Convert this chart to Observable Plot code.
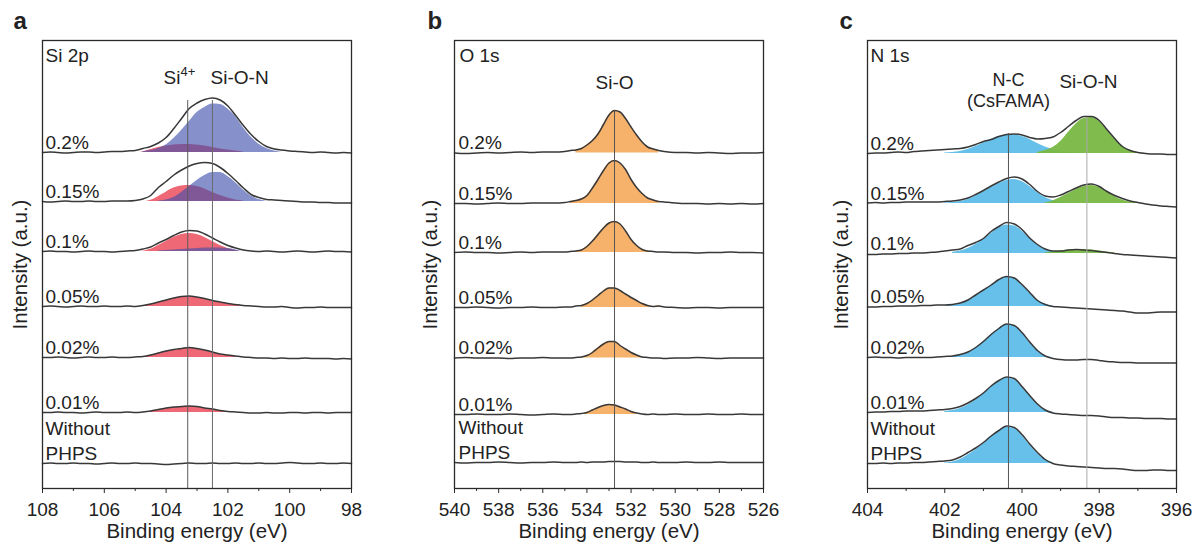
<!DOCTYPE html>
<html><head><meta charset="utf-8">
<script src="https://cdn.jsdelivr.net/npm/d3@7"></script>
<script src="https://cdn.jsdelivr.net/npm/@observablehq/plot@0.6"></script>
<style>
html,body{margin:0;padding:0;background:#fff;}
#wrap{position:relative;width:1194px;height:550px;overflow:hidden;background:#fff;}
#wrap svg{position:absolute;top:0;}
</style></head><body><div id="wrap"></div>
<script>
// ---------- shared ----------
const sampleLabels = ["0.2%", "0.15%", "0.1%", "0.05%", "0.02%", "0.01%", "Without\nPHPS"];

// ---------- panel a : Si 2p ----------
const siEnergy = [108,107.75,107.5,107.25,107,106.75,106.5,106.25,106,105.75,105.5,105.25,105,104.75,104.5,104.25,104,103.75,103.5,103.25,103,102.75,102.5,102.25,102,101.75,101.5,101.25,101,100.75,100.5,100.25,100,99.75,99.5,99.25,99,98.75,98.5,98.25,98];
const siOffset = [336, 287, 237, 182, 131, 76, 25];
const siRaw02  = [0,0.5,0,-0.5,0,0.5,0.5,0,0.5,1,1,1.5, 2,4,6,9.5,15,24,34,44,49.5,53,54.5,52.5,46.5,37,27,18,11,6,3.5,2.5,1.5,1,0.5,0,0.5,0,-0.5,0,-0.5];
const siRaw015 = [0,-0.5,0,0.5,0,0,0.5,0,0,0.5,0.5,0.5, 1,2.5,6,14,20,26.5,31.5,35.5,38,39,38,34,28,21,13.5,7,4,2,1.5,1,0.5,0,-0.5,-0.5,-1,-1,-1.5,-1.5,-1.5];
const siRaw01  = [0,0.5,0,0,-0.5,0,0.5,0,0,-0.5,0,0.5, 1,2.5,4.5,8.5,12,16,19.5,21,20.5,17.5,13.5,9.5,6,3.5,1.5,0.5, 0,0.5,0,-0.5,0,0.5,0,-0.5,0,0.5,0,0,-0.5];
const siRaw005 = [0,0.5,0,-0.5,0,0.5,0,0,0.5,0,0,0.5, 0,1,2.5,4.5,6.5,8.5,10,10.5,9.5,8,6,4.5,3,2,1,0.5, 0,-0.5,-0.5,0,-1,-1.5,-1,-1,-0.5,-1,-1,-1,-1];
const siRaw002 = [0,0,0.5,0,-0.5,0,0.5,0,0,0.5,0,0, 0.5,1,2.5,4.5,6.5,8,9,10,9,7.5,5.5,3.5,2.5,1.5,0.5,0, -0.5,-0.5,-1,-0.5,-1,-1,-0.5,-1,-1,-1,-1.5,-1,-1.5];
const siRaw001 = [0,0,0.5,0,0,-0.5,0,0.5,0,0,0,0.5, 0,0.5,1.5,3,4.5,5.5,6,6.5,6,4.5,3.5,2,1,0.5,0,-0.5, -0.5,0,-0.5,-0.5,0,0,-0.5,0,0,-0.5,0,0,0];
const siRaw0   = [0,0.5,0,0,0.5,0,0,-0.5,0,0.5,0,0,0.5,0,0,-0.5,-1,-0.5,0,0.5,0,0,0.5,0,0,0.5,0,0,0.5,0,0,0.5,1,0.5,0,0,0.5,0,0,0.5,0];
// fitted components (start energy + heights on the grid)
const siRed02   = {from: 105,    h: [0.5,1.5,3,5,6.5,7.5,8,8,7.5,6.5,5,3.5,2.5,1.5,0.5]};
const siBlue02  = {from: 104.75, h: [1,2,4,7.5,14,22,31,40,45,48.5,48,43.5,36,26,17,10,5.5,3,1.5,0.5]};
const siRed015  = {from: 104.75, h: [1,3,6.5,10,13.5,15.5,16,15,12.5,9,6,3.5,1.5,0.5]};
const siBlue015 = {from: 104.25, h: [0.5,1.5,4,9,15,21,26,29,29,25,19,12.5,7,3.5,1.5,0.5]};
const siRed01   = {from: 105,    h: [0.5,2,4,7.5,11,14.5,17,18,17,14,10,6,3,1,0]};
const siBlue01  = {from: 104.25, h: [0.5,1,1.5,2,2.5,3,3.5,3.5,3.5,3,2,1,0.5]};
const siRed005  = {from: 104.75, h: [0.5,2,4,6,8,9.5,10,9,7.5,5.5,4,2.5,1.5,0.5]};
const siRed002  = {from: 104.75, h: [0.5,2,4,6,7.5,8.5,9.5,8.5,7,5,3,2,1]};
const siRed001  = {from: 104.5,  h: [1,2.5,4,5,5.5,6,5.5,4,3,1.5,0.5]};
const siTicks = [108, 106, 104, 102, 100, 98];
const siMinor = [107, 105, 103, 101, 99];

// ---------- panel b : O 1s ----------
const oEnergy = [540,539.5,539,538.5,538,537.5,537,536.5,536,535.5,535,534.75,534.5,534.25,534,533.75,533.5,533.25,533,532.75,532.5,532.25,532,531.75,531.5,531.25,531,530.75,530.5,530,529.5,529,528.5,528,527.5,527,526.5,526];
const oOffset = [335.5, 285, 236, 181, 130.5, 74, 26];
const oRaw02  = [0,-0.5,0,0.5,0,0.5,1,0.5,1,1,1.5, 2.5,3,4.5,8,12.5,19,28.5,38,42.5,41,34.5,26,18,11,6,4,2.5,1.5, 0.5,0.5,0,0.5,0,-0.5,0,0,0.5];
const oRaw015 = [0,0,-0.5,0,0.5,0,0,0.5,0.5,0.5,1, 2,3,4.5,8,15.5,24,33,40.5,43,40.5,34,24,16,10,5.5,3.5,2,1.5, 0.5,0,0,-0.5,0,-0.5,0,-0.5,0];
const oRaw01  = [0,0.5,0,0,-0.5,0,0.5,0,0.5,0.5,0.5, 1,1.5,2.5,6,11.5,18,24.5,29.5,31,28.5,21.5,13,7,3,1.5,1,0.5,0.5, 0,0,-0.5,0,0,0.5,0,0,-0.5];
const oRaw005 = [0,0,0.5,0,-0.5,0,0,0.5,0,0,0.5, 0.5,1.5,2,4,7.5,12,16.5,19.5,19.5,17,13.5,10,7,4,2,1,1.5,0.5, 0,-0.5,0,0,-0.5,0,0,0,0];
const oRaw002 = [0,0.5,0,0,0,-0.5,0,0,0.5,0,0, 0,0.5,1,2.5,5.5,10,14,16.5,16.5,12.5,9,5.5,3,1,0.5,0,0,-0.5, 0,0,0.5,0,-0.5,0,0,0,0];
const oRaw001 = [0,0,0.5,0,0,0.5,0,-0.5,0,0.5,0, 0,0.5,1,2,4.5,7,9,10,9.5,7.5,5.5,3,1.5,0.5,0,0.5,0,0, 0.5,0,0,0.5,0,0,0.5,0,0];
const oRaw0   = [0,-0.5,0,0,0.5,0,-0.5,0,0,0.5,0, 0,0,0.5,0,0.5,0.5,0.5,1,1,1,0.5,0.5,0.5,0,0,0.5,0,0, 0,0.5,0,0,0.5,0,0,0,0];
const oFit02  = {from: 534.5,  h: [3,4.5,8,12.5,19,28.5,38,42.5,41,34.5,26,18,11,6,4,2.5]};
const oFit015 = {from: 534.75, h: [2,3,4.5,8,15.5,24,33,40.5,43,40.5,34,24,16,10,5.5,3.5,2]};
const oFit01  = {from: 534.5,  h: [1.5,2.5,6,11.5,18,24.5,29.5,31,28.5,21.5,13,7,3,1.5,1]};
const oFit005 = {from: 534.25, h: [2,4,7.5,12,16.5,19.5,19.5,17,13.5,10,7,4,2,1,1.5,0.5]};
const oFit002 = {from: 534.25, h: [1,2.5,5.5,10,14,16.5,16.5,12.5,9,5.5,3,1]};
const oFit001 = {from: 534.25, h: [1,2,4.5,7,9,10,9.5,7.5,5.5,3,1.5]};
const oTicks = [540, 538, 536, 534, 532, 530, 528, 526];
const oMinor = [539, 537, 535, 533, 531, 529, 527];

// ---------- panel c : N 1s ----------
const nEnergy = [404,403.8,403.6,403.4,403.2,403,402.8,402.6,402.4,402.2,402,401.8,401.6,401.4,401.2,401,400.8,400.6,400.4,400.2,400,399.8,399.6,399.4,399.2,399,398.8,398.6,398.4,398.2,398,397.8,397.6,397.4,397.2,397,396.8,396.6,396.4,396.2,396];
const nOffset = [335, 285, 235, 182, 131, 76, 25];
const nRaw02  = [0,0.5,0.5,1,1.5,1,2,2.5,3,3.5,4,4.5,5,6.5,9,12,14,17,19,19.5,18.5,16,14.5,15,16.5,21,27,33,37,37,33,24,15,7,3,1,0,-0.5,-0.5,-1,-1];
const nRaw015 = [0.5,1,0.5,1,1,1.5,1.5,1.5,1.5,1.5,2,2.5,3.5,5.5,9,13,17.5,21.5,25,26.5,24.5,19,12,7.5,6.5,8.5,12,15.5,18.5,19.5,17,12,8,5,2.5,1,-0.5,-1.5,-2.5,-3,-3.5];
const nRaw01  = [-1,-1,-0.5,-0.5,0,0,0.5,0.5,1,1.5,2.5,3.5,4.5,8,11,15,22,27,31,29.5,24,15.5,9,4.5,2.5,2.5,3.5,4,3.5,3,2,1,0,-1,-1.5,-2,-2.5,-3,-3.5,-4,-4.5];
const nRaw005 = [-0.5,-0.5,0,0,0.5,0.5,0.5,1,1,1.5,1.5,2,3.5,6.5,11.5,16.5,21.5,27,30,28.5,22,14,6,2,0,-0.5,-1,-1.5,-2,-2.5,-3,-3.5,-4,-4.5,-5.5,-6.5,-6.5,-6,-5.5,-5.5,-5.5];
const nRaw002 = [0,0.5,0,0,-0.5,0,0,0,0,0.5,1,1.5,3,5.5,10,16,23,29,33.5,32,25,15.5,7,1.5,-1,-2,-2.5,-2.5,-2,-2,-3,-4,-4.5,-5,-5,-5.5,-5.5,-5.5,-5.5,-5.5,-5.5];
const nRaw001 = [0,0.5,0.5,1,1,1.5,1.5,1.5,2,2.5,3,4,6,9.5,14,19.5,26.5,32,35.5,34,26,17,8.5,2.5,-0.5,-1.5,-2,-2.5,-3,-3,-3.5,-4.5,-5,-5,-5.5,-5.5,-6,-6,-6,-6.5,-6.5];
const nRaw0   = [0,0,0.5,0,0.5,0.5,1,1,1.5,2,2.5,3.5,6.5,11,15.5,21,27.5,33,37.5,36,29,19.5,11,4,0,-1.5,-2.5,-3,-3.5,-4,-4.5,-5,-5,-5.5,-6.5,-7,-7,-6.5,-6.5,-7,-7];
const nBlue02   = {from: 402,   h: [0.5,1,2,4,7,10.5,14,17,18.5,18.5,17,14,10,6.5,4,2,1,0.5,0.2]};
const nGreen02  = {from: 399.6, h: [1,3,6,12,21,29.5,35,36,32,23.5,14.5,7,3,1,0]};
const nBlue015  = {from: 402,   h: [0.5,1,2,4,7.5,11.5,16,20,23,24,22,17,11,6,3,1.5,0.5]};
const nGreen015 = {from: 399.4, h: [0.5,2.5,6,10,14,17,18,16,11.5,7,3.5,1.5,0.5]};
const nBlue01   = {from: 401.8, h: [1,2.5,5,9,14,20,25.5,28.5,27.5,22.5,15,8.5,4,2,1,0.5,0.3,0.2]};
const nGreen01  = {from: 399.4, h: [0.5,1.5,2.5,3.5,4,4,3.5,2.5,1.5,0.5]};
const nBlue005  = {from: 402,   h: [0.5,1,2.5,5.5,10.5,15.5,21,26.5,29.5,28,21.5,13.5,6.5,2.5,0.5]};
const nBlue002  = {from: 402,   h: [0.5,1,2.5,5,9.5,15.5,22.5,28.5,33,31.5,24.5,15,6.5,1.5,0]};
const nBlue001  = {from: 402,   h: [1,2,4,7.5,12.5,18.5,25.5,31,34.5,33,25.5,16.5,8,2.5,0.5]};
const nBlue0    = {from: 402,   h: [0.5,1.5,4,8.5,13.5,19.5,26.5,32.5,36.5,35,28,18.5,10,4,1]};
const nTicks = [404, 402, 400, 398, 396];
const nMinor = [403, 401, 399, 397];

// ---------- builder ----------
function idxOf(grid, e) { return grid.findIndex(v => Math.abs(v - e) < 1e-6); }
function compRows(grid, offsets, k, comp, tag) {
  const s = idxOf(grid, comp.from);
  return comp.h.map((h, j) => ({e: grid[s + j], y1: offsets[k], y2: offsets[k] + h, k: tag + k}));
}
function envelopeRows(grid, offsets, k, comps) {
  const sum = new Map();
  comps.forEach(c => { const s = idxOf(grid, c.from); c.h.forEach((h, j) => sum.set(s + j, (sum.get(s + j) || 0) + h)); });
  return [...sum.keys()].sort((a, b) => a - b).map(i => ({e: grid[i], y: offsets[k] + sum.get(i), k}));
}

function makePanel(cfg) {
  const rawRows = [];
  cfg.raws.forEach((arr, k) => arr.forEach((h, i) => rawRows.push({e: cfg.energy[i], y: cfg.offsets[k] + h, k})));
  const marks = [];
  cfg.fills.forEach(layer => {
    const rows = layer.series.flatMap(([k, comp]) => compRows(cfg.energy, cfg.offsets, k, comp, layer.color));
    marks.push(Plot.areaY(rows, {x: "e", y1: "y1", y2: "y2", z: "k", fill: layer.color, fillOpacity: layer.opacity, curve: "monotone-x"}));
  });
  if (cfg.envelopes) {
    const rows = cfg.envelopes.flatMap(([k, comps]) => envelopeRows(cfg.energy, cfg.offsets, k, comps));
    marks.push(Plot.line(rows, {x: "e", y: "y", z: "k", stroke: "white", strokeWidth: 2.2, curve: "monotone-x"}));
  }
  marks.push(Plot.line(rawRows, {x: "e", y: "y", z: "k", stroke: "#383838", strokeWidth: 1.5, curve: "monotone-x"}));
  marks.push(Plot.ruleX(cfg.rules, {x: "e", y1: 0, y2: "top", stroke: "c", strokeWidth: 1}));
  marks.push(Plot.frame({stroke: "#2a2a2a", strokeWidth: 1.3}));
  marks.push(Plot.axisX(cfg.ticks, {tickSize: 5, tickPadding: 9, label: null, stroke: "#2a2a2a"}));
  marks.push(Plot.axisX(cfg.minor, {tickSize: 3, tickFormat: () => "", label: null, stroke: "#2a2a2a"}));
  marks.push(Plot.text(sampleLabels, {x: () => cfg.domain[0], y: (d, i) => cfg.offsets[i], text: d => d,
    textAnchor: "start", lineAnchor: "bottom", lineHeight: 1.27, dx: cfg.labelDx, dy: -4}));
  marks.push(Plot.text(cfg.notes, {x: "e", y: "y", text: "t", lineAnchor: "bottom", textAnchor: "middle", fontSize: "fs", lineHeight: 1.16}));
  marks.push(Plot.text([cfg.title], {frameAnchor: "top-left", textAnchor: "start", lineAnchor: "bottom", dx: cfg.titleDx, dy: 21}));
  marks.push(Plot.text([cfg.letter], {frameAnchor: "top-left", textAnchor: "start", lineAnchor: "bottom", dx: cfg.letterDx, dy: -12, fontWeight: "bold", fontSize: 24}));
  marks.push(Plot.text(["Intensity (a.u.)"], {frameAnchor: "left", rotate: -90, textAnchor: "middle", lineAnchor: "middle", dx: cfg.yLabelDx, fontSize: 20.5}));
  marks.push(Plot.text(["Binding energy (eV)"], {frameAnchor: "bottom", textAnchor: "middle", lineAnchor: "bottom", dy: 49, fontSize: 20.5}));
  const svg = Plot.plot({
    width: 398, height: 550,
    marginLeft: cfg.marginLeft, marginRight: cfg.marginRight, marginTop: 40, marginBottom: 62,
    x: {domain: cfg.domain},
    y: {domain: [0, 448], axis: null},
    style: {fontFamily: "'Liberation Sans', Arial, sans-serif", fontSize: "19px", color: "#222", background: "white", overflow: "visible"},
    marks
  });
  // render the superscript of "Si4+" as a raised tspan within the same text element
  svg.querySelectorAll("text").forEach(t => {
    if (t.textContent === "Si⁴⁺") {
      t.textContent = "Si";
      const ts = document.createElementNS("http://www.w3.org/2000/svg", "tspan");
      ts.setAttribute("font-size", "13");
      ts.setAttribute("dy", "-8");
      ts.textContent = "4+";
      t.appendChild(ts);
    }
  });
  svg.style.left = cfg.left + "px";
  document.getElementById("wrap").appendChild(svg);
}

const RED = "#ee5b69", BLUE = "#3c4dad", ORANGE = "#f6ad62", SKY = "#5fbde9", GREEN = "#78b843";

makePanel({
  left: 0, marginLeft: 42, marginRight: 47, domain: [108, 98],
  energy: siEnergy, offsets: siOffset,
  raws: [siRaw02, siRaw015, siRaw01, siRaw005, siRaw002, siRaw001, siRaw0],
  fills: [
    {color: RED, opacity: 0.92, series: [[0, siRed02], [1, siRed015], [2, siRed01], [3, siRed005], [4, siRed002], [5, siRed001]]},
    {color: BLUE, opacity: 0.62, series: [[0, siBlue02], [1, siBlue015], [2, siBlue01]]}
  ],
  envelopes: [[0, [siRed02, siBlue02]], [1, [siRed015, siBlue015]], [2, [siRed01, siBlue01]]],
  rules: [{e: 103.3, top: 388, c: "#5a5a5a"}, {e: 102.5, top: 388, c: "#6a6a6a"}],
  notes: [{t: "Si⁴⁺", e: 103.57, y: 405, fs: 19}, {t: "Si-O-N", e: 101.62, y: 405, fs: 19}],
  ticks: siTicks, minor: siMinor,
  title: "Si 2p", letter: "a", labelDx: 3, titleDx: 3, letterDx: -29, yLabelDx: -22
});

makePanel({
  left: 398, marginLeft: 56, marginRight: 33, domain: [540, 526],
  energy: oEnergy, offsets: oOffset,
  raws: [oRaw02, oRaw015, oRaw01, oRaw005, oRaw002, oRaw001, oRaw0],
  fills: [
    {color: ORANGE, opacity: 0.95, series: [[0, oFit02], [1, oFit015], [2, oFit01], [3, oFit005], [4, oFit002], [5, oFit001]]}
  ],
  rules: [{e: 532.75, top: 378, c: "#555"}],
  notes: [{t: "Si-O", e: 532.75, y: 400, fs: 19}],
  ticks: oTicks, minor: oMinor,
  title: "O 1s", letter: "b", labelDx: 4, titleDx: 5, letterDx: -27, yLabelDx: -24
});

makePanel({
  left: 796, marginLeft: 71, marginRight: 18, domain: [404, 396],
  energy: nEnergy, offsets: nOffset,
  raws: [nRaw02, nRaw015, nRaw01, nRaw005, nRaw002, nRaw001, nRaw0],
  fills: [
    {color: SKY, opacity: 0.95, series: [[0, nBlue02], [1, nBlue015], [2, nBlue01], [3, nBlue005], [4, nBlue002], [5, nBlue001], [6, nBlue0]]},
    {color: GREEN, opacity: 0.95, series: [[0, nGreen02], [1, nGreen015], [2, nGreen01]]}
  ],
  rules: [{e: 400.35, top: 355, c: "#555"}, {e: 398.32, top: 371, c: "#aaa"}],
  notes: [{t: "N-C\n(CsFAMA)", e: 400.35, y: 382, fs: 18}, {t: "Si-O-N", e: 398.28, y: 401, fs: 19}],
  ticks: nTicks, minor: nMinor,
  title: "N 1s", letter: "c", labelDx: 3, titleDx: 3, letterDx: -28, yLabelDx: -26
});
</script></body></html>
